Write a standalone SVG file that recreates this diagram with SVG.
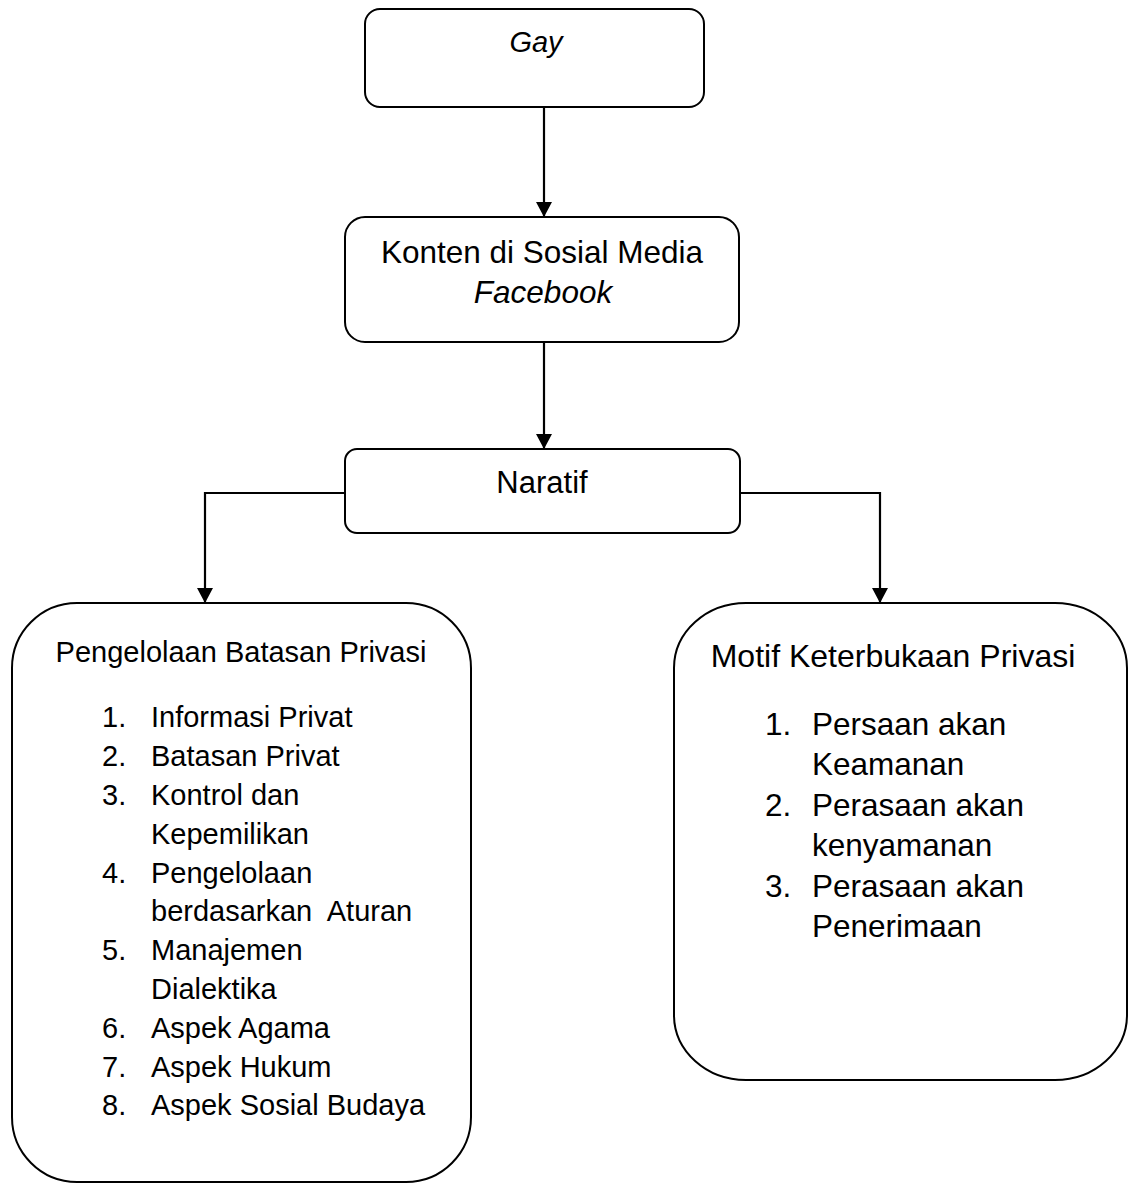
<svg xmlns="http://www.w3.org/2000/svg" width="1128" height="1183" viewBox="0 0 1128 1183">
<style>
.box{fill:#fff;stroke:#000;stroke-width:2}
.t{font-family:"Liberation Sans",Arial,sans-serif;fill:#000}
.c{fill:none;stroke:#000;stroke-width:2.2}
</style>
<defs>
<marker id="ah" viewBox="0 0 15 16" refX="15" refY="8" markerWidth="15" markerHeight="16" markerUnits="userSpaceOnUse" orient="auto">
<path d="M0,0 L15,8 L0,16 Z" fill="#000"/>
</marker>
</defs>
<rect width="1128" height="1183" fill="#fff"/>
<g id="connectors">
<line class="c" x1="544" y1="107" x2="544" y2="217" marker-end="url(#ah)"/>
<line class="c" x1="544" y1="342" x2="544" y2="449" marker-end="url(#ah)"/>
<polyline class="c" points="345,493 205,493 205,603" marker-end="url(#ah)"/>
<polyline class="c" points="740,493 880,493 880,603" marker-end="url(#ah)"/>
</g>
<g id="node-gay">
<rect class="box" x="365" y="9" width="339" height="98" rx="15" ry="15"/>
<text class="t" x="536" y="52" font-size="29" font-style="italic" text-anchor="middle">Gay</text>
</g>
<g id="node-konten">
<rect class="box" x="345" y="217" width="394" height="125" rx="20" ry="20"/>
<text class="t" x="542" y="263" font-size="31.5" text-anchor="middle">Konten di Sosial Media</text>
<text class="t" x="543" y="303" font-size="31.5" font-style="italic" text-anchor="middle">Facebook</text>
</g>
<g id="node-naratif">
<rect class="box" x="345" y="449" width="395" height="84" rx="12" ry="12"/>
<text class="t" x="542" y="493" font-size="31" text-anchor="middle">Naratif</text>
</g>
<g id="node-pengelolaan">
<rect class="box" x="12" y="603" width="459" height="579" rx="65" ry="65"/>
<text class="t" x="241" y="662" font-size="29" text-anchor="middle">Pengelolaan Batasan Privasi</text>
<g class="t" font-size="29">
<text x="102" y="727">1.</text><text x="151" y="727">Informasi Privat</text>
<text x="102" y="766">2.</text><text x="151" y="766">Batasan Privat</text>
<text x="102" y="805">3.</text><text x="151" y="805">Kontrol dan</text>
<text x="151" y="844">Kepemilikan</text>
<text x="102" y="883">4.</text><text x="151" y="883">Pengelolaan</text>
<text x="151" y="921" xml:space="preserve">berdasarkan  Aturan</text>
<text x="102" y="960">5.</text><text x="151" y="960">Manajemen</text>
<text x="151" y="999">Dialektika</text>
<text x="102" y="1038">6.</text><text x="151" y="1038">Aspek Agama</text>
<text x="102" y="1077">7.</text><text x="151" y="1077">Aspek Hukum</text>
<text x="102" y="1115">8.</text><text x="151" y="1115">Aspek Sosial Budaya</text>
</g>
</g>
<g id="node-motif">
<rect class="box" x="674" y="603" width="453" height="477" rx="72" ry="65"/>
<text class="t" x="893" y="667" font-size="32" text-anchor="middle">Motif Keterbukaan Privasi</text>
<g class="t" font-size="31.5">
<text x="765" y="735">1.</text><text x="812" y="735">Persaan akan</text>
<text x="812" y="775">Keamanan</text>
<text x="765" y="816">2.</text><text x="812" y="816">Perasaan akan</text>
<text x="812" y="856">kenyamanan</text>
<text x="765" y="897">3.</text><text x="812" y="897">Perasaan akan</text>
<text x="812" y="937">Penerimaan</text>
</g>
</g>
</svg>
